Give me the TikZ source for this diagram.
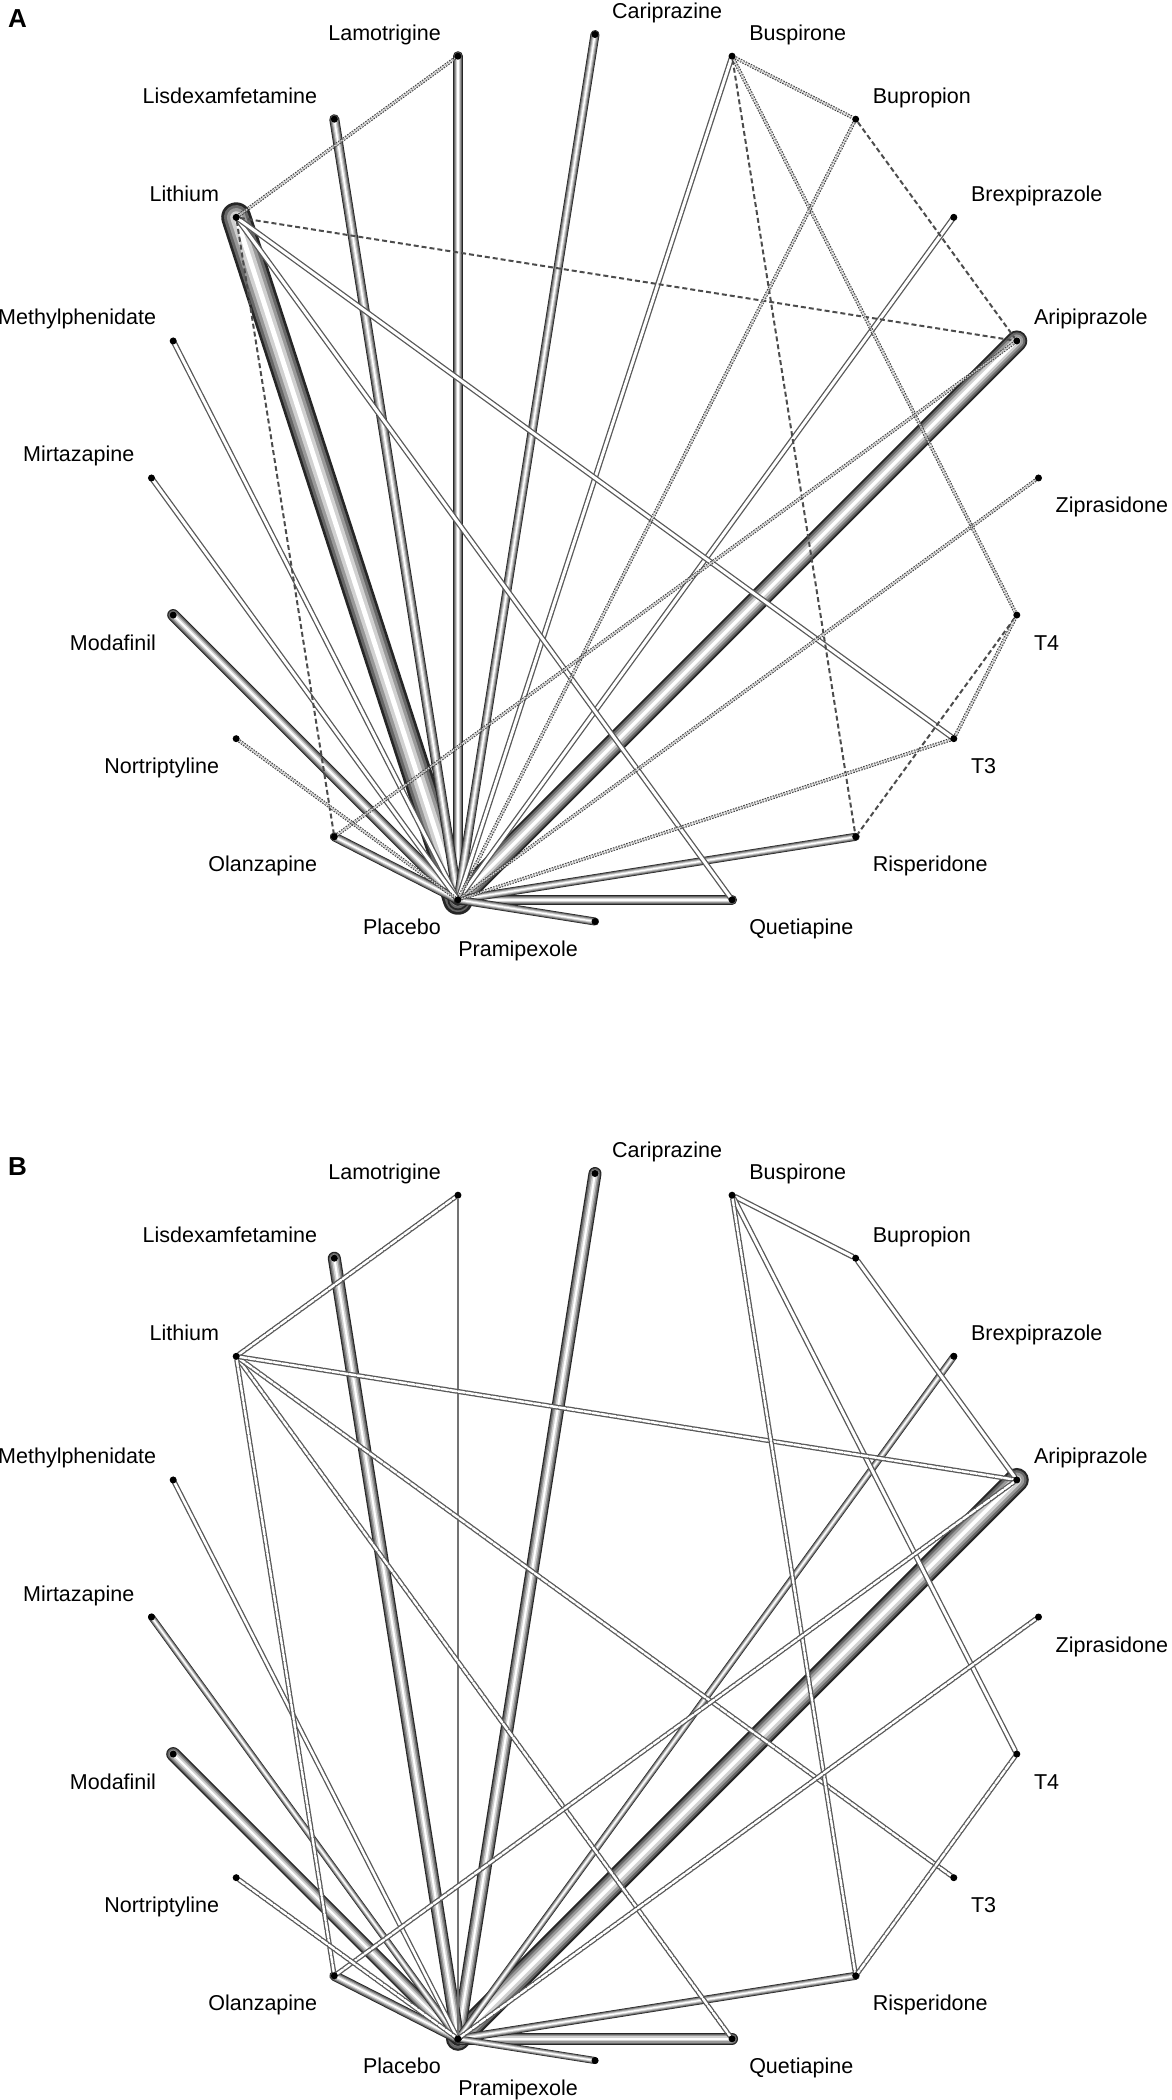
\documentclass[tikz,border=0pt]{standalone}
\usepackage{fontspec}
\setmainfont{Liberation Sans}
\usepackage{tikz}
\usetikzlibrary{backgrounds}

\begin{document}
\begin{tikzpicture}[
  x=1pt, y=1pt,
  drug/.style={circle, fill=black, inner sep=0pt, minimum size=7pt},
  tagNE/.style={anchor=base west, inner sep=0pt, xshift=17pt, yshift=16pt,
                font=\fontsize{21.5}{24}\selectfont},
  tagSE/.style={anchor=base west, inner sep=0pt, xshift=17pt, yshift=-35pt,
                font=\fontsize{21.5}{24}\selectfont},
  tagNW/.style={anchor=base east, inner sep=0pt, xshift=-17pt, yshift=16pt,
                font=\fontsize{21.5}{24}\selectfont},
  tagSW/.style={anchor=base east, inner sep=0pt, xshift=-17pt, yshift=-35pt,
                font=\fontsize{21.5}{24}\selectfont},
  panel/.style={anchor=base west, inner sep=0pt,
                font=\fontsize{26}{28}\selectfont\bfseries},
  tube/.style={line cap=round, draw=black!85, line width=#1,
               postaction={draw=black!60, line width=0.82*#1},
               postaction={draw=black!40, line width=0.62*#1},
               postaction={draw=black!18, line width=0.4*#1},
               postaction={draw=white, line width=0.16*#1}},
  pair/.style={draw=black!65, line width=1.3pt, double=white,
               double distance=#1, line cap=round},
  pair/.default=3pt,
  pairdash/.style={pair=#1, dash pattern=on 7pt off 1.5pt},
  pairdash/.default=2.4pt,
  dashline/.style={draw=black!70, line width=2pt, dash pattern=on 5pt off 3pt},
  hatch/.style={draw=black!75, line width=1pt, double=black!20,
                double distance=1.6pt, dash pattern=on 1.6pt off 1.2pt},
  hair/.style={draw=black!55, line width=2.2pt},
]
\useasboundingbox (-595,-1622) rectangle (576,478);

% Panel A: nodes
\node[panel] (panA) at (-587,450) {A};
\node[drug] (ziprA) at (0:443.5) {};   \node[tagSE] (ziprAt) at (ziprA) {Ziprasidone};
\node[drug] (aripA) at (18:443.5) {};  \node[tagNE] (aripAt) at (aripA) {Aripiprazole};
\node[drug] (brexA) at (36:443.5) {};  \node[tagNE] (brexAt) at (brexA) {Brexpiprazole};
\node[drug] (buprA) at (54:443.5) {};  \node[tagNE] (buprAt) at (buprA) {Bupropion};
\node[drug] (buspA) at (72:443.5) {};  \node[tagNE] (buspAt) at (buspA) {Buspirone};
\node[drug] (cariA) at (90:443.5) {};  \node[tagNE] (cariAt) at (cariA) {Cariprazine};
\node[drug] (lamoA) at (108:443.5) {}; \node[tagNW] (lamoAt) at (lamoA) {Lamotrigine};
\node[drug] (lisdA) at (126:443.5) {}; \node[tagNW] (lisdAt) at (lisdA) {Lisdexamfetamine};
\node[drug] (lithA) at (144:443.5) {}; \node[tagNW] (lithAt) at (lithA) {Lithium};
\node[drug] (methA) at (162:443.5) {}; \node[tagNW] (methAt) at (methA) {Methylphenidate};
\node[drug] (mirtA) at (180:443.5) {}; \node[tagNW] (mirtAt) at (mirtA) {Mirtazapine};
\node[drug] (modaA) at (198:443.5) {}; \node[tagSW] (modaAt) at (modaA) {Modafinil};
\node[drug] (nortA) at (216:443.5) {}; \node[tagSW] (nortAt) at (nortA) {Nortriptyline};
\node[drug] (olanA) at (234:443.5) {}; \node[tagSW] (olanAt) at (olanA) {Olanzapine};
\node[drug] (placA) at (252:443.5) {}; \node[tagSW] (placAt) at (placA) {Placebo};
\node[drug] (pramA) at (270:443.5) {}; \node[tagSW] (pramAt) at (pramA) {Pramipexole};
\node[drug] (quetA) at (288:443.5) {}; \node[tagSE] (quetAt) at (quetA) {Quetiapine};
\node[drug] (rispA) at (306:443.5) {}; \node[tagSE] (rispAt) at (rispA) {Risperidone};
\node[drug] (tthrA) at (324:443.5) {}; \node[tagSE] (tthrAt) at (tthrA) {T3};
\node[drug] (tfouA) at (342:443.5) {}; \node[tagSE] (tfouAt) at (tfouA) {T4};

% Panel B: nodes
\begin{scope}[yshift=-1139pt]
\node[panel] (panB) at (-587,442) {B};
\node[drug] (ziprB) at (0:443.5) {};   \node[tagSE] (ziprBt) at (ziprB) {Ziprasidone};
\node[drug] (aripB) at (18:443.5) {};  \node[tagNE] (aripBt) at (aripB) {Aripiprazole};
\node[drug] (brexB) at (36:443.5) {};  \node[tagNE] (brexBt) at (brexB) {Brexpiprazole};
\node[drug] (buprB) at (54:443.5) {};  \node[tagNE] (buprBt) at (buprB) {Bupropion};
\node[drug] (buspB) at (72:443.5) {};  \node[tagNE] (buspBt) at (buspB) {Buspirone};
\node[drug] (cariB) at (90:443.5) {};  \node[tagNE] (cariBt) at (cariB) {Cariprazine};
\node[drug] (lamoB) at (108:443.5) {}; \node[tagNW] (lamoBt) at (lamoB) {Lamotrigine};
\node[drug] (lisdB) at (126:443.5) {}; \node[tagNW] (lisdBt) at (lisdB) {Lisdexamfetamine};
\node[drug] (lithB) at (144:443.5) {}; \node[tagNW] (lithBt) at (lithB) {Lithium};
\node[drug] (methB) at (162:443.5) {}; \node[tagNW] (methBt) at (methB) {Methylphenidate};
\node[drug] (mirtB) at (180:443.5) {}; \node[tagNW] (mirtBt) at (mirtB) {Mirtazapine};
\node[drug] (modaB) at (198:443.5) {}; \node[tagSW] (modaBt) at (modaB) {Modafinil};
\node[drug] (nortB) at (216:443.5) {}; \node[tagSW] (nortBt) at (nortB) {Nortriptyline};
\node[drug] (olanB) at (234:443.5) {}; \node[tagSW] (olanBt) at (olanB) {Olanzapine};
\node[drug] (placB) at (252:443.5) {}; \node[tagSW] (placBt) at (placB) {Placebo};
\node[drug] (pramB) at (270:443.5) {}; \node[tagSW] (pramBt) at (pramB) {Pramipexole};
\node[drug] (quetB) at (288:443.5) {}; \node[tagSE] (quetBt) at (quetB) {Quetiapine};
\node[drug] (rispB) at (306:443.5) {}; \node[tagSE] (rispBt) at (rispB) {Risperidone};
\node[drug] (tthrB) at (324:443.5) {}; \node[tagSE] (tthrBt) at (tthrB) {T3};
\node[drug] (tfouB) at (342:443.5) {}; \node[tagSE] (tfouBt) at (tfouB) {T4};
\end{scope}

\begin{scope}[on background layer]
% Panel A: edges
\draw[tube=30pt] (lithA.center) -- (placA.center);
\draw[tube=21pt] (aripA.center) -- (placA.center);
\draw[tube=12pt] (modaA.center) -- (placA.center);
\draw[tube=10pt] (lamoA.center) -- (placA.center);
\draw[tube=10pt] (lisdA.center) -- (placA.center);
\draw[tube=10pt] (quetA.center) -- (placA.center);
\draw[tube=9pt] (olanA.center) -- (placA.center);
\draw[tube=9pt] (cariA.center) -- (placA.center);
\draw[tube=8pt] (rispA.center) -- (placA.center);
\draw[tube=8pt] (pramA.center) -- (placA.center);
\draw[pair] (brexA.center) -- (placA.center);
\draw[pair] (buspA.center) -- (placA.center);
\draw[pair] (methA.center) -- (placA.center);
\draw[pair] (mirtA.center) -- (placA.center);
\draw[pair] (lithA.center) -- (quetA.center);
\draw[pair] (lithA.center) -- (tthrA.center);
\draw[dashline] (lithA) -- (aripA);
\draw[dashline] (lithA) -- (olanA);
\draw[dashline] (buspA) -- (rispA);
\draw[dashline] (tfouA) -- (rispA);
\draw[dashline] (buprA) -- (aripA);
\draw[hatch] (lithA) -- (lamoA);
\draw[hatch] (buspA) -- (buprA);
\draw[hatch] (buspA) -- (tfouA);
\draw[hatch] (buprA) -- (placA);
\draw[hatch] (ziprA) -- (placA);
\draw[hatch] (olanA) -- (aripA);
\draw[hatch] (nortA) -- (placA);
\draw[hatch] (tthrA) -- (placA);
\draw[hatch] (tthrA) -- (tfouA);

% Panel B: edges
\draw[tube=24pt] (aripB.center) -- (placB.center);
\draw[tube=14pt] (modaB.center) -- (placB.center);
\draw[tube=13pt] (cariB.center) -- (placB.center);
\draw[tube=13pt] (lisdB.center) -- (placB.center);
\draw[tube=12pt] (quetB.center) -- (placB.center);
\draw[tube=10pt] (olanB.center) -- (placB.center);
\draw[tube=8pt] (rispB.center) -- (placB.center);
\draw[tube=7pt] (pramB.center) -- (placB.center);
\draw[tube=7pt] (brexB.center) -- (placB.center);
\draw[tube=7pt] (mirtB.center) -- (placB.center);
\draw[pair=2.6pt] (methB.center) -- (placB.center);
\draw[hair] (lamoB) -- (placB);
\draw[pair] (buspB) -- (buprB);
\draw[pair] (buspB) -- (tfouB);
\draw[pair] (buprB) -- (aripB);
\draw[pairdash] (lithB) -- (quetB);
\draw[pairdash] (lithB) -- (tthrB);
\draw[pairdash] (lithB) -- (lamoB);
\draw[pairdash] (lithB) -- (aripB);
\draw[pairdash] (lithB) -- (olanB);
\draw[pairdash] (buspB) -- (rispB);
\draw[pairdash] (tfouB) -- (rispB);
\draw[pairdash] (olanB) -- (aripB);
\draw[pairdash] (nortB) -- (placB);
\draw[pairdash] (ziprB) -- (placB);
\end{scope}

\end{tikzpicture}
\end{document}
